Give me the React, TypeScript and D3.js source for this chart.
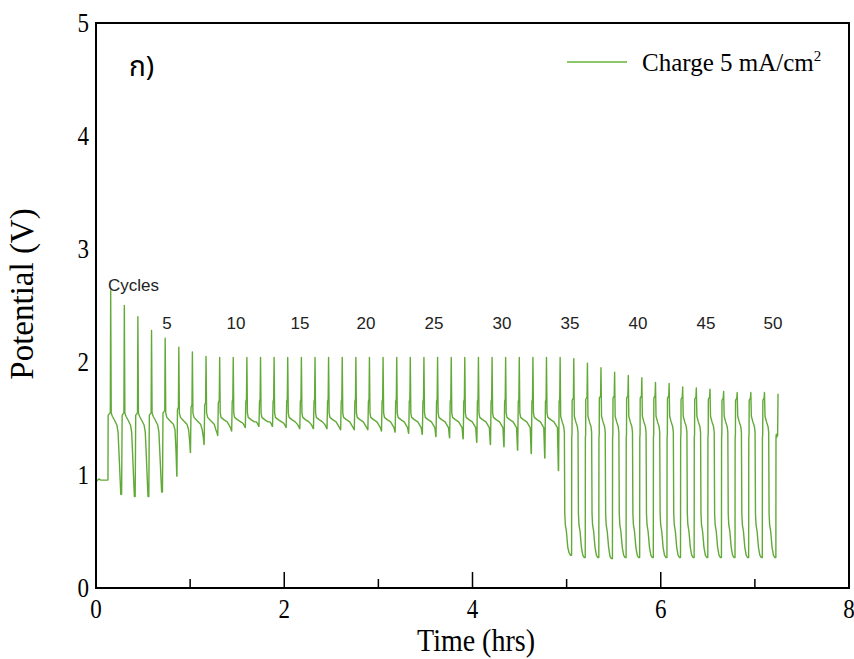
import React from "react";
import * as d3 from "d3";

// ---- data ----
const restTimes = [0, 0.01, 0.03, 0.05, 0.08, 0.11, 0.127];
const restV = [0.93, 0.95, 0.965, 0.955, 0.955, 0.955, 0.955];

const peakTimes = [
  0.156, 0.301, 0.445, 0.59, 0.735, 0.88, 1.024, 1.169, 1.314, 1.458,
  1.603, 1.748, 1.892, 2.037, 2.182, 2.327, 2.471, 2.616, 2.761, 2.905,
  3.05, 3.195, 3.339, 3.484, 3.629, 3.774, 3.918, 4.063, 4.208, 4.352,
  4.497, 4.642, 4.786, 4.931, 5.076, 5.221, 5.365, 5.51, 5.655, 5.799,
  5.944, 6.089, 6.233, 6.378, 6.523, 6.668, 6.812, 6.957, 7.102, 7.246,
];
const peakV = [
  2.63, 2.5, 2.4, 2.28, 2.21, 2.13, 2.09, 2.05, 2.04, 2.04,
  2.04, 2.04, 2.04, 2.04, 2.04, 2.04, 2.04, 2.04, 2.04, 2.04,
  2.04, 2.04, 2.04, 2.04, 2.04, 2.04, 2.04, 2.04, 2.04, 2.04,
  2.04, 2.04, 2.04, 2.04, 2.03, 1.99, 1.95, 1.91, 1.88, 1.86,
  1.82, 1.81, 1.78, 1.77, 1.76, 1.74, 1.73, 1.73, 1.73, 1.72,
];
const shoulderV = [
  1.53, 1.53, 1.53, 1.53, 1.55, 1.58, 1.6, 1.62, 1.64, 1.65,
  1.65, 1.65, 1.65, 1.65, 1.65, 1.65, 1.65, 1.65, 1.65, 1.65,
  1.65, 1.65, 1.65, 1.65, 1.65, 1.65, 1.65, 1.65, 1.65, 1.65,
  1.65, 1.65, 1.65, 1.65, 1.66, 1.67, 1.68, 1.68, 1.68, 1.68,
  1.68, 1.68, 1.67, 1.67, 1.67, 1.66, 1.66, 1.66, 1.66, 1.33,
];
// minimum reached during the discharge following each peak (cycles 1..49)
const minV = [
  0.83, 0.81, 0.81, 0.85, 0.99, 1.2, 1.27, 1.35, 1.39, 1.42,
  1.43, 1.43, 1.42, 1.41, 1.41, 1.41, 1.4, 1.4, 1.4, 1.39,
  1.38, 1.37, 1.36, 1.34, 1.33, 1.32, 1.29, 1.27, 1.25, 1.22,
  1.19, 1.15, 1.04, 0.29, 0.27, 0.27, 0.26, 0.27, 0.27, 0.27,
  0.27, 0.27, 0.27, 0.27, 0.27, 0.27, 0.27, 0.27, 0.27,
];

const cycleLabels = ["5", "10", "15", "20", "25", "30", "35", "40", "45", "50"];
const cycleLabelTimes = [0.754, 1.487, 2.167, 2.869, 3.591, 4.313, 5.036, 5.758, 6.481, 7.193];

const xTicks = [0, 2, 4, 6, 8];
const xMinorTicks = [1, 3, 5, 7];
const yTicks = [0, 1, 2, 3, 4, 5];

// ---- build the curve ----
type Pt = [number, number];
function buildCurve(): Pt[] {
  const pts: Pt[] = [];
  restTimes.forEach((t, i) => pts.push([t, restV[i]]));
  pts.push([restTimes[restTimes.length - 1] + 0.002, shoulderV[0]]);
  pts.push([peakTimes[0] - 0.004, shoulderV[0] + 0.02]);
  for (let i = 0; i < peakTimes.length; i++) {
    const tp = peakTimes[i];
    pts.push([tp, peakV[i]]);
    if (i >= minV.length) break;
    const P = peakTimes[i + 1] - tp;
    const m = minV[i];
    let shape: Pt[];
    let riseAt: number;
    if (m < 0.5) {
      shape = [
        [0.04, 1.52], [0.15, 1.47], [0.26, 1.43], [0.31, 1.38],
        [0.34, 0.66], [0.38, 0.56], [0.46, 0.5], [0.56, 0.36],
        [0.66, m + 0.02], [0.76, m],
      ];
      riseAt = 0.84;
    } else if (i < 4) {
      shape = [
        [0.04, 1.55], [0.12, 1.52], [0.3, 1.48], [0.46, 1.44],
        [0.54, 1.38], [0.6, 1.22], [0.74, m],
      ];
      riseAt = 0.8;
    } else if (i < 8) {
      shape = [
        [0.04, 1.55], [0.12, 1.51], [0.35, 1.48], [0.6, 1.45],
        [0.72, 1.4], [0.8, (1.4 + m) / 2], [0.85, m],
      ];
      riseAt = 0.86;
    } else {
      shape = [
        [0.04, 1.55], [0.1, 1.51], [0.3, 1.49], [0.55, 1.47],
        [0.7, Math.max(m + 0.04, 1.44)], [0.8, Math.max(m + 0.02, 1.42)],
        [0.87, m],
      ];
      riseAt = 0.885;
    }
    shape.forEach(([f, v]) => pts.push([tp + f * P, v]));
    pts.push([tp + riseAt * P, m]);
    if (m < 0.5) {
      pts.push([tp + (riseAt + 0.01) * P, 1.33]);
      pts.push([tp + (riseAt + 0.03) * P, 1.36]);
    }
    pts.push([tp + (riseAt + 0.04) * P, shoulderV[i + 1]]);
    pts.push([tp + 0.97 * P, shoulderV[i + 1] + 0.02]);
  }
  return pts;
}

const W = 854;
const H = 659;

export default function App() {
  const x = d3.scaleLinear().domain([0, 8]).range([96, 849]);
  const y = d3.scaleLinear().domain([0, 5]).range([588, 23]);
  const data = buildCurve();
  const line = d3
    .line<Pt>()
    .x((d) => x(d[0]))
    .y((d) => y(d[1]));

  const serif = "'Liberation Serif', 'Times New Roman', serif";
  const sans = "'Liberation Sans', Arial, sans-serif";

  return (
    <svg
      width={W}
      height={H}
      style={{ position: "absolute", left: 0, top: 0, display: "block", background: "#fff" }}
    >
      <rect x={0} y={0} width={W} height={H} fill="#fff" />
      <path
        d={line(data) || ""}
        fill="none"
        stroke="#62aa38"
        strokeWidth={1.4}
        strokeLinejoin="round"
      />
      <rect
        x={x(0)}
        y={y(5)}
        width={x(8) - x(0)}
        height={y(0) - y(5)}
        fill="none"
        stroke="#000"
        strokeWidth={2}
      />
      {xTicks.slice(1, -1).map((t) => (
        <line key={"M" + t} x1={x(t)} x2={x(t)} y1={y(0)} y2={y(0) - 16} stroke="#000" strokeWidth={1.5} />
      ))}
      {xMinorTicks.map((t) => (
        <line key={"m" + t} x1={x(t)} x2={x(t)} y1={y(0)} y2={y(0) - 9} stroke="#000" strokeWidth={1.5} />
      ))}
      {xTicks.map((t) => (
        <text
          key={"xl" + t}
          transform={`translate(${x(t)},618) scale(1,1.15)`}
          textAnchor="middle"
          fontFamily={serif}
          fontSize={23}
        >
          {t}
        </text>
      ))}
      {yTicks.map((t) => (
        <text
          key={"yl" + t}
          transform={`translate(89,${y(t) + 9}) scale(1,1.15)`}
          textAnchor="end"
          fontFamily={serif}
          fontSize={23}
        >
          {t}
        </text>
      ))}
      <text
        transform="translate(476,651) scale(1,1.1)"
        textAnchor="middle"
        fontFamily={serif}
        fontSize={28}
      >
        Time (hrs)
      </text>
      <text
        transform={`translate(33,294) rotate(-90)`}
        textAnchor="middle"
        fontFamily={serif}
        fontSize={33}
      >
        Potential (V)
      </text>
      <text x={108} y={291} fontFamily={sans} fontSize={17} fill="#222">
        Cycles
      </text>
      {cycleLabels.map((s, i) => (
        <text
          key={s}
          x={x(cycleLabelTimes[i])}
          y={329}
          textAnchor="middle"
          fontFamily={sans}
          fontSize={17}
          fill="#222"
        >
          {s}
        </text>
      ))}
      <text x={129} y={76} fontFamily="'Noto Sans Thai', Loma, Tahoma, 'DejaVu Sans', sans-serif" fontSize={28}>
        ก)
      </text>
      <line x1={567} x2={627} y1={62} y2={62} stroke="#8cc66a" strokeWidth={2} />
      <text x={642} y={71} fontFamily={serif} fontSize={25}>
        Charge 5 mA/cm
        <tspan fontSize={15} dy={-10}>2</tspan>
      </text>
    </svg>
  );
}
